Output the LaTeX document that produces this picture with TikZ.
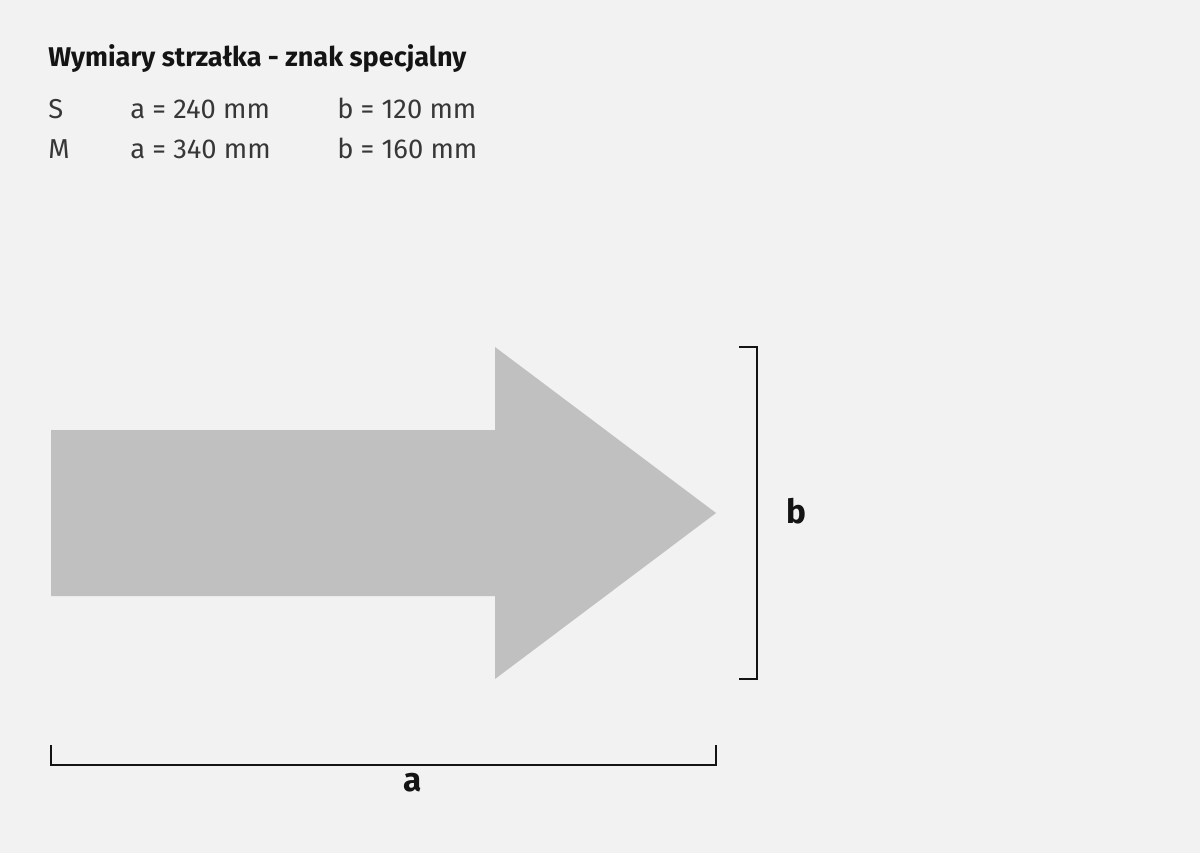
\documentclass[tikz,border=0pt]{standalone}
\usepackage{fontspec}
\setmainfont{Fira Sans}
\usepackage{xcolor}
\usepackage{tikz}
\usetikzlibrary{positioning,calc}
\definecolor{paper}{RGB}{242,242,242}
\definecolor{arrowgrey}{RGB}{192,192,193}
\definecolor{ink}{RGB}{20,20,20}

\begin{document}
\begin{tikzpicture}[
    x=0.75pt, y=-0.75pt,
    title/.style={anchor=base west, inner sep=0pt, font=\bfseries\fontsize{20.3}{22}\selectfont, text=ink},
    row/.style={anchor=base west, inner sep=0pt, font=\fontsize{20.5}{22}\selectfont, text=ink!85},
    dimension/.style={line width=1.6pt, draw=ink},
    label/.style={inner sep=0pt, font=\bfseries\fontsize{25}{27}\selectfont, text=ink}
]
    % Background
    \fill[paper] (0,0) rectangle (1200,853);
    \useasboundingbox (0,0) rectangle (1200,853);

    % Header
    \node[title] (title) at (48,66) {Wymiary strzałka - znak specjalny};
    \node[row] (sizeS) at (48,118) {S};
    \node[row] (aS) at (130,118) {a = 240 mm};
    \node[row] (bS) at (337,118) {b = 120 mm};
    \node[row] (sizeM) at (48,158) {M};
    \node[row] (aM) at (130,158) {a = 340 mm};
    \node[row] (bM) at (337,158) {b = 160 mm};

    % Arrow
    \fill[arrowgrey] (51,430) -- (495,430) -- (495,347) -- (716,513)
        -- (495,679) -- (495,596) -- (51,596) -- cycle;

    % Dimension b
    \coordinate (btop) at (757,347);
    \coordinate (bbot) at (757,679);
    \draw[dimension] ($(btop)+(-18,0)$) -- (btop) -- (bbot) -- ($(bbot)+(-18,0)$);
    \node[label] (b) at (796,511) {b};

    % Dimension a
    \coordinate (aleft) at (51,765);
    \coordinate (aright) at (716,765);
    \draw[dimension] ($(aleft)+(0,-20)$) -- (aleft) -- (aright) -- ($(aright)+(0,-20)$);
    \node[label] (a) at (413,783) {a};
\end{tikzpicture}
\end{document}
